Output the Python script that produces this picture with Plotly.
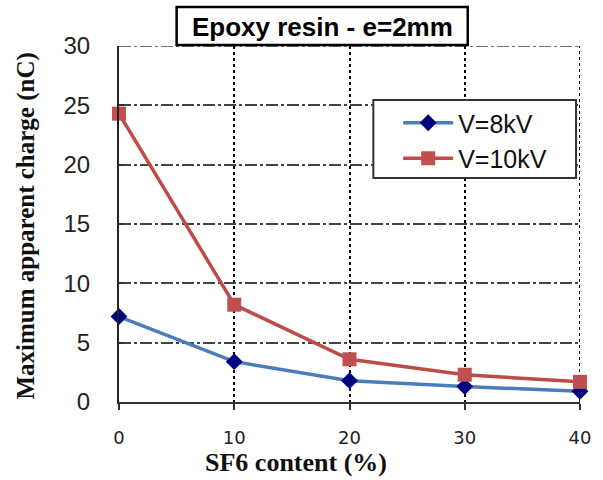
import plotly.graph_objects as go

sf6 = [0, 10, 20, 30, 40]
v8 = [7.2, 3.4, 1.8, 1.3, 0.9]
v10 = [24.3, 8.2, 3.6, 2.3, 1.7]
x_ticks = [0, 10, 20, 30, 40]
y_ticks = [0, 5, 10, 15, 20, 25, 30]

W, H = 603, 480
L, R, T, B = 119, 20, 46, 78
pw, ph = W - L - R, H - T - B

def px(x):
    return (x - L) / pw

def py(y):
    return (H - B - y) / ph

fig = go.Figure()
fig.add_trace(go.Scatter(
    x=sf6, y=v8, name="V=8kV", mode="lines+markers",
    line=dict(color="#4A7EBB", width=3.5),
    marker=dict(symbol="diamond", size=13, color="#000080"),
    cliponaxis=False,
))
fig.add_trace(go.Scatter(
    x=sf6, y=v10, name="V=10kV", mode="lines+markers",
    line=dict(color="#BE4B48", width=3.5),
    marker=dict(symbol="square", size=14, color="#C0504D"),
    cliponaxis=False,
))

hgrid = dict(color="#444", width=1.5, dash="12px,3px,3px,3px")
vgrid = dict(color="#000", width=2, dash="3px,3px")

fig.update_layout(
    width=W, height=H,
    margin=dict(l=L, r=R, t=T, b=B, pad=0),
    paper_bgcolor="white", plot_bgcolor="white",
    font=dict(family="Liberation Sans, Arial", color="#111"),
    showlegend=True,
    legend=dict(
        x=px(400), y=py(100), xanchor="left", yanchor="top",
        bgcolor="rgba(0,0,0,0)", borderwidth=0,
        font=dict(size=25, family="Liberation Sans, Arial", color="#111"),
        itemwidth=50,
    ),
    xaxis=dict(
        range=[x_ticks[0], x_ticks[-1]], tickvals=x_ticks, ticktext=[str(v) for v in x_ticks],
        showgrid=True, gridcolor=vgrid["color"], gridwidth=vgrid["width"], griddash=vgrid["dash"],
        showline=True, linecolor="#333", linewidth=2,
        ticks="outside", ticklen=6, tickwidth=2, tickcolor="#333",
        tickfont=dict(size=18, family="DejaVu Sans", color="#222"),
        ticklabelstandoff=12,
        zeroline=False,
    ),
    yaxis=dict(
        range=[y_ticks[0], y_ticks[-1]], tickvals=y_ticks, ticktext=[str(v) for v in y_ticks],
        showgrid=True, gridcolor=hgrid["color"], gridwidth=hgrid["width"], griddash=hgrid["dash"],
        showline=True, linecolor="#222", linewidth=2,
        ticks="inside", ticklen=5, tickwidth=1.5, tickcolor="#333",
        tickfont=dict(size=24, family="Liberation Sans, Arial", color="#222"),
        ticklabelstandoff=22,
        zeroline=False,
    ),
    shapes=[
        # gridline at the top edge (y = max tick)
        dict(type="line", xref="x domain", yref="y", x0=0, x1=1,
             y0=y_ticks[-1], y1=y_ticks[-1], line=hgrid, layer="below"),
        # gridline at the right edge (x = max tick)
        dict(type="line", xref="x", yref="y domain", x0=x_ticks[-1], x1=x_ticks[-1],
             y0=0, y1=1, line=vgrid, layer="below"),
        dict(type="rect", xref="paper", yref="paper",
             x0=px(375), x1=px(579), y0=py(178), y1=py(100),
             line=dict(color="#333", width=2), fillcolor="white", layer="above"),
        dict(type="rect", xref="paper", yref="paper",
             x0=px(177), x1=px(470), y0=py(45), y1=py(7),
             line=dict(color="#000", width=2.5), fillcolor="white", layer="above"),
    ],
    annotations=[
        dict(text="<b>Epoxy resin - e=2mm</b>", xref="paper", yref="paper",
             x=px(324), y=py(27), xanchor="center", yanchor="middle",
             showarrow=False, font=dict(size=26, family="Liberation Sans, Arial", color="#000")),
        dict(text="<b>Maximum apparent charge (nC)</b>", xref="paper", yref="paper",
             x=px(25), y=py(226), xanchor="center", yanchor="middle", textangle=-90,
             showarrow=False, font=dict(size=25, family="Liberation Serif, Times New Roman", color="#111")),
        dict(text="<b>SF6 content (%)</b>", xref="paper", yref="paper",
             x=px(297), y=py(462), xanchor="center", yanchor="middle",
             showarrow=False, font=dict(size=26, family="Liberation Serif, Times New Roman", color="#111")),
    ],
)

fig.write_html("out.html")
